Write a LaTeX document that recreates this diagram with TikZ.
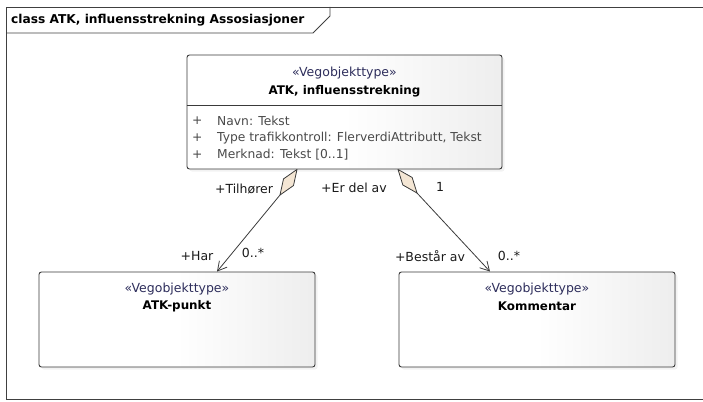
\documentclass[tikz,border=0pt]{standalone}
\usepackage{fontspec}
\setmainfont{DejaVu Sans}
\usetikzlibrary{arrows.meta,calc,shadows}
\definecolor{framecol}{HTML}{404040}
\definecolor{boxline}{HTML}{3A3A3A}
\definecolor{boxgray}{HTML}{DCDCDC}
\definecolor{stereocol}{HTML}{2E2E5C}
\definecolor{attrcol}{HTML}{4A4A4A}
\definecolor{diafill}{HTML}{F4E6D4}
\definecolor{labcol}{HTML}{1A1A1A}
\pgfdeclarehorizontalshading{clsshade}{100bp}{color(0bp)=(white); color(50bp)=(white); color(100bp)=(boxgray)}
\tikzset{
  cls/.style={draw=boxline, line width=0.9pt, rounded corners=2.5pt,
    shading=clsshade, inner sep=0pt,
    drop shadow={shadow xshift=2.5pt, shadow yshift=-2.5pt, fill=black!10}},
  stereo/.style={text=stereocol, inner sep=0pt, font=\fontsize{12.5}{14}\selectfont},
  cname/.style={text=black, inner sep=0pt, font=\fontsize{11.9}{14}\selectfont\bfseries},
  attr/.style={text=attrcol, inner sep=0pt, anchor=west, font=\fontsize{12.3}{14}\selectfont},
  lab/.style={text=labcol, inner sep=0pt, font=\fontsize{12.5}{14}\selectfont},
  conn/.style={draw=boxline, line width=0.8pt},
  agg/.style={draw=boxline, line width=0.8pt, fill=diafill, line join=round},
  tip/.style={-{Straight Barb[length=9pt,width=10pt,line width=0.8pt]}}
}
\begin{document}
\begin{tikzpicture}[x=1pt,y=-1pt]
\useasboundingbox (0,0) rectangle (703,401);
% frame
\draw[framecol, line width=0.9pt] (703,7) -- (6,7) -- (6,399) -- (703,399);
\draw[framecol, line width=0.9pt] (6,33) -- (313,33) -- (330,16) -- (330,7);
\node[anchor=west, inner sep=0pt, font=\fontsize{12.2}{14}\selectfont\bfseries] (title) at (11,20.5) {class ATK, influensstrekning Assosiasjoner};

% classes
\node[cls, minimum width=315pt, minimum height=114pt] (atk) at (344.5,112) {};
\node[cls, minimum width=276pt, minimum height=95pt] (punkt) at (177,319.5) {};
\node[cls, minimum width=276pt, minimum height=95pt] (komm) at (537,319.5) {};

% main class contents
\node[stereo] (atkst) at (344.5,73) {«Vegobjekttype»};
\node[cname] (atkname) at (344.5,91) {ATK, influensstrekning};
\coordinate (dv) at (0,105);
\draw[boxline, line width=0.8pt] (atk.west |- dv) -- (atk.east |- dv);
\node[attr] (p1) at (192,121) {+};
\node[attr] (a1) at (217,121) {Navn: Tekst};
\node[attr] (p2) at (192,138) {+};
\node[attr] (a2) at (217,138) {Type trafikkontroll: FlerverdiAttributt, Tekst};
\node[attr] (p3) at (192,155) {+};
\node[attr] (a3) at (217,155) {Merknad: Tekst [0..1]};

% other classes
\node[stereo] (pst) at (177,289) {«Vegobjekttype»};
\node[cname] (pname) at (177,306) {ATK-punkt};
\node[stereo] (kst) at (537,289) {«Vegobjekttype»};
\node[cname] (kname) at (537,306) {Kommentar};

% association 1
\coordinate (d1t) at (atk.south -| 297,0);
\coordinate (d1b) at (280,195);
\coordinate (t1) at (punkt.north -| 217,0);
\draw[agg] (d1t) -- ($(d1t)!0.5!(d1b)!6pt!90:(d1b)$) -- (d1b) -- ($(d1t)!0.5!(d1b)!6pt!-90:(d1b)$) -- cycle;
\draw[conn, tip] (d1b) -- (t1);

% association 2
\coordinate (d2t) at (atk.south -| 398,0);
\coordinate (d2b) at (417,193);
\coordinate (t2) at (komm.north -| 490,0);
\draw[agg] (d2t) -- ($(d2t)!0.5!(d2b)!6pt!90:(d2b)$) -- (d2b) -- ($(d2t)!0.5!(d2b)!6pt!-90:(d2b)$) -- cycle;
\draw[conn, tip] (d2b) -- (t2);

% labels
\node[lab] (l1) at (244,189) {+Tilhører};
\node[lab] (l2) at (354,188) {+Er del av};
\node[lab] (l3) at (440,187) {1};
\node[lab] (l4) at (197,256) {+Har};
\node[lab] (l5) at (253,253) {0..*};
\node[lab] (l6) at (430,256) {+Består av};
\node[lab] (l7) at (509,256) {0..*};
\end{tikzpicture}
\end{document}
